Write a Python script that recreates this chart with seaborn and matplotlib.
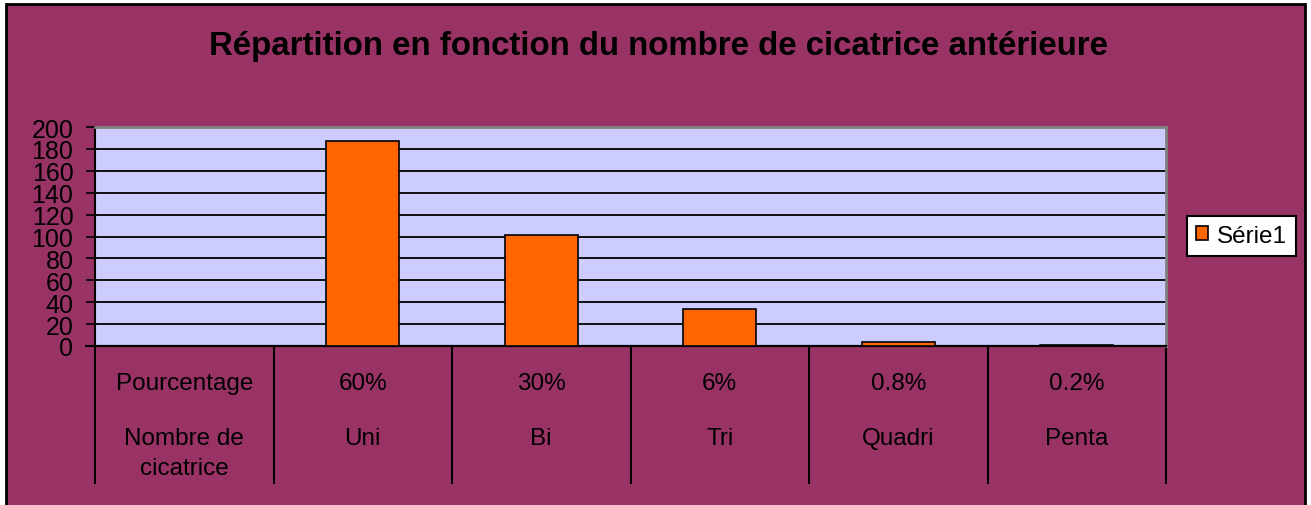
import pandas as pd
import matplotlib
matplotlib.use("Agg")
import matplotlib.pyplot as plt
import matplotlib.transforms as mtransforms
from matplotlib.patches import Patch, Rectangle
import seaborn as sns

# Data
categories = ["Pourcentage", "Uni", "Bi", "Tri", "Quadri", "Penta"]
values = [float("nan"), 187, 101, 34, 4, 1]
pourcentage = ["Pourcentage", "60%", "30%", "6%", "0.8%", "0.2%"]
nombre = ["Nombre de\ncicatrice", "Uni", "Bi", "Tri", "Quadri", "Penta"]
y_ticks = list(range(0, 201, 20))

df = pd.DataFrame({"cat": categories, "val": values})

plt.rcParams['font.family'] = ['Liberation Sans', 'DejaVu Sans']

fig = plt.figure(figsize=(13.11, 5.06), dpi=100, facecolor="white")
# chart area background with black frame
fig.patches.append(Rectangle((6 / 1311, -0.02), 1299 / 1311, 1.02 - 5 / 506,
                             transform=fig.transFigure, facecolor="#993366",
                             edgecolor="black", linewidth=2, zorder=-10))

ax = fig.add_axes([95 / 1311, 1 - 347 / 506, (1166 - 95) / 1311, (347 - 128) / 506])
ax.set_facecolor("#CCCCFF")

sns.barplot(data=df, x="cat", y="val", order=categories, color="#FF6600",
            width=0.41, edgecolor="black", linewidth=1.2, saturation=1,
            errorbar=None, ax=ax, zorder=3)

ax.set_xlim(-0.5, 5.5)
ax.set_ylim(0, 200)
ax.set_yticks(y_ticks)
ax.tick_params(axis="y", labelsize=18, length=6.5, width=1.2, color="black", pad=9)
ax.tick_params(axis="x", length=0, labelbottom=False)
ax.set_xlabel("")
ax.set_ylabel("")
ax.yaxis.grid(True, color="black", linewidth=1.3, zorder=1)
ax.set_axisbelow(True)
for side in ["top", "right"]:
    ax.spines[side].set_color("#808080")
    ax.spines[side].set_linewidth(2)
ax.spines["left"].set_color("black")
ax.spines["left"].set_linewidth(1.5)
ax.spines["bottom"].set_color("black")
ax.spines["bottom"].set_linewidth(1.5)

# data table below the axis
trans = mtransforms.blended_transform_factory(ax.transData, ax.transAxes)
for i in range(len(categories) + 1):
    ax.plot([i - 0.5, i - 0.5], [0, -0.626], color="black", linewidth=1.5,
            transform=trans, clip_on=False)
ax.plot([-0.55, 5.5], [0, 0], color="black", linewidth=1.5, transform=trans,
        clip_on=False)
for i, (p, n) in enumerate(zip(pourcentage, nombre)):
    ax.text(i, -0.169, p, transform=trans, ha="center", va="center", fontsize=17.5)
    ax.text(i, -0.37, n, transform=trans, ha="center", va="top", fontsize=17.5,
            linespacing=1.45, multialignment="center")

fig.text(658 / 1311, 1 - 47 / 506,
         "Répartition en fonction du nombre de cicatrice antérieure",
         ha="center", va="center", fontsize=23.8, fontweight="bold")

handle = Patch(facecolor="#FF6600", edgecolor="black", linewidth=1.2)
leg = fig.legend([handle], ["Série1"], loc="center left",
                 bbox_to_anchor=(1187 / 1311, 1 - 237 / 506),
                 bbox_transform=fig.transFigure, fontsize=17.5, frameon=True,
                 fancybox=False, edgecolor="black", facecolor="white",
                 framealpha=1, handlelength=0.5, handleheight=0.5,
                 handletextpad=0.4, borderpad=0.35, borderaxespad=0)
leg.get_frame().set_linewidth(1.5)

fig.savefig("out.png", dpi=100, facecolor=fig.get_facecolor())
